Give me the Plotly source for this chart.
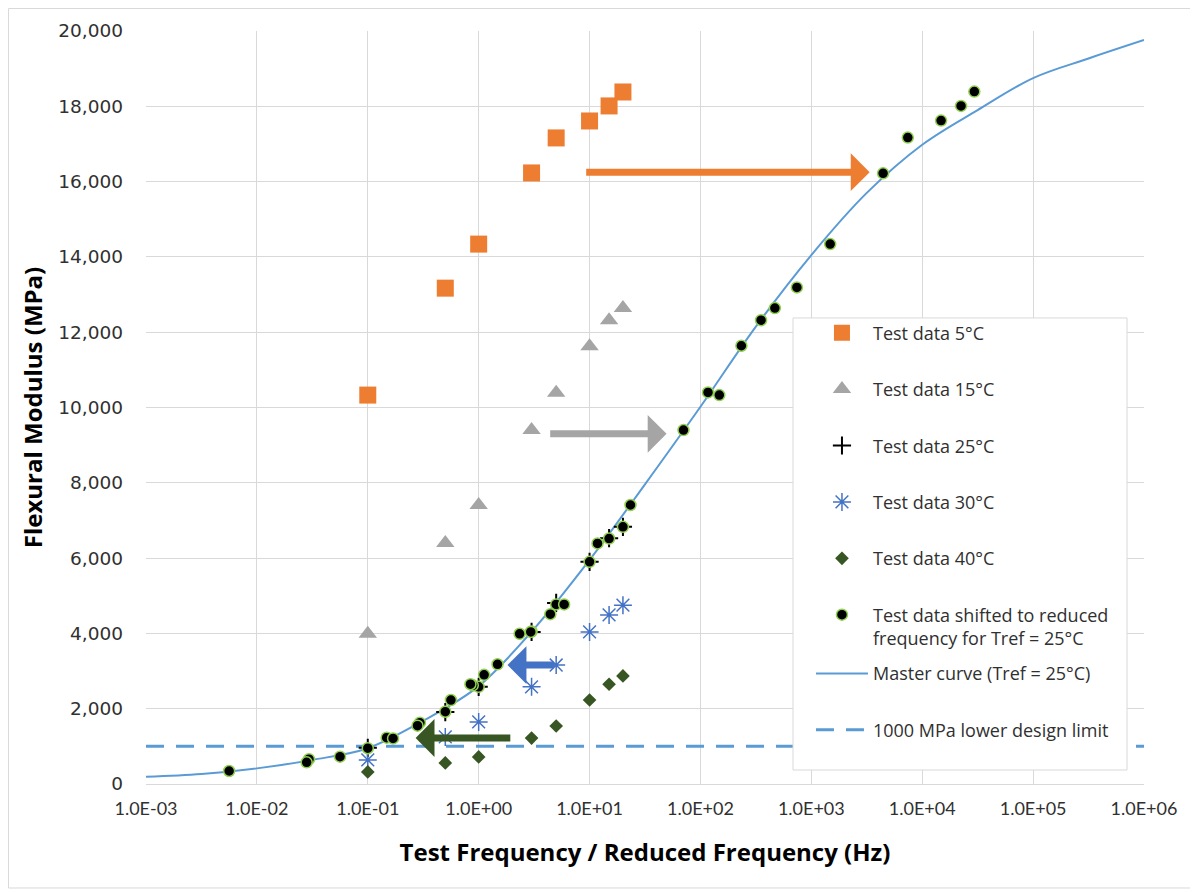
import numpy as np
import plotly.graph_objects as go

# ---------------- data ----------------
test_freq_hz = [0.1, 0.5, 1, 3, 5, 10, 15, 20]

modulus_5c = [10330, 13170, 14340, 16230, 17160, 17610, 18010, 18380]
modulus_15c = [3990, 6400, 7410, 9400, 10390, 11630, 12320, 12640]
modulus_25c = [960, 1910, 2580, 4040, 4810, 5900, 6530, 6830]
modulus_30c = [640, 1250, 1650, 2580, 3160, 4040, 4490, 4750]
modulus_40c = [320, 560, 720, 1220, 1540, 2230, 2650, 2870]

shifted_freq_hz = [
    148, 741, 1479, 4437, 7413, 14790, 22390, 29510,          # from 5°C
    2.34, 11.8, 23.4, 70.3, 117, 234, 352, 469,               # from 15°C
    0.1, 0.5, 1, 3, 5, 10, 15, 20,                            # 25°C (reference)
    0.0295, 0.148, 0.295, 0.885, 1.48, 2.95, 4.43, 5.9,       # from 30°C
    0.00562, 0.0281, 0.0562, 0.169, 0.281, 0.562, 0.843, 1.12 # from 40°C
]
shifted_modulus = [
    10330, 13190, 14340, 16220, 17170, 17620, 18010, 18390,
    3990, 6390, 7410, 9400, 10400, 11640, 12320, 12640,
    950, 1920, 2580, 4050, 4770, 5900, 6520, 6830,
    660, 1230, 1630, 2620, 3180, 4040, 4510, 4770,
    345, 575, 725, 1210, 1550, 2230, 2650, 2900,
]

master_freq_hz = [1e-3, 3.16e-3, 1e-2, 3.16e-2, 0.1, 0.316, 1, 3.16, 10, 31.6,
                  100, 316, 1000, 3162, 1e4, 3.16e4, 1e5, 3.16e5, 1e6]
master_modulus = [190, 265, 415, 640, 950, 1680, 2600, 4120, 5950, 7960,
                  10020, 12150, 14050, 15700, 16980, 17900, 18750, 19270, 19760]

design_limit_freq_hz = [1e-3, 1e6]
design_limit_modulus = [1000, 1000]

x_tick_vals = [1e-3, 1e-2, 1e-1, 1e0, 1e1, 1e2, 1e3, 1e4, 1e5, 1e6]
x_tick_text = ["1.0E-03", "1.0E-02", "1.0E-01", "1.0E+00", "1.0E+01",
               "1.0E+02", "1.0E+03", "1.0E+04", "1.0E+05", "1.0E+06"]
y_tick_vals = list(range(0, 20001, 2000))

# shift arrows (tail frequency -> tip frequency at a given modulus)
arrow_tail_hz = [9.04, 4.28, 4.94, 1.99]
arrow_tip_hz = [3357, 49.5, 1.82, 0.27]
arrow_modulus = [16250, 9300, 3160, 1222]
arrow_colors = ["#ED7D31", "#A5A5A5", "#4472C4", "#375623"]

# ---------------- figure ----------------
FONT = "'Open Sans', Lato, Arial, sans-serif"
TXT = "#303030"
fig = go.Figure()

# lines first so markers sit on top
fig.add_trace(go.Scatter(
    x=master_freq_hz, y=master_modulus, mode="lines", line_shape="spline",
    line=dict(color="#5B9BD5", width=2), name="Master curve (Tref = 25°C)",
    legend="legend2", legendgroup="g7", legendrank=7))
fig.add_trace(go.Scatter(
    x=design_limit_freq_hz, y=design_limit_modulus, mode="lines",
    line=dict(color="#5B9BD5", width=3, dash="18px,12px"),
    name="1000 MPa lower design limit",
    legend="legend2", legendgroup="g8", legendrank=8))

fig.add_trace(go.Scatter(
    x=test_freq_hz, y=modulus_5c, mode="markers", name="Test data 5°C",
    marker=dict(symbol="square", size=17, color="#ED7D31"),
    legendgroup="g1", legendrank=1))
fig.add_trace(go.Scatter(
    x=test_freq_hz, y=modulus_15c, mode="markers", name="Test data 15°C",
    marker=dict(symbol="triangle-up", size=16, color="#A5A5A5"),
    legendgroup="g2", legendrank=2))
fig.add_trace(go.Scatter(
    x=test_freq_hz, y=modulus_25c, mode="markers", name="Test data 25°C",
    marker=dict(symbol="cross-thin-open", size=13, color="black",
                line=dict(color="black", width=2)),
    legendgroup="g3", legendrank=3))
fig.add_trace(go.Scatter(
    x=test_freq_hz, y=modulus_30c, mode="markers", name="Test data 30°C",
    marker=dict(symbol="asterisk-open", size=15, color="#4472C4",
                line=dict(color="#4472C4", width=1.5)),
    legendgroup="g4", legendrank=4))
fig.add_trace(go.Scatter(
    x=test_freq_hz, y=modulus_40c, mode="markers", name="Test data 40°C",
    marker=dict(symbol="diamond", size=10.5, color="#375623"),
    legendgroup="g5", legendrank=5))
fig.add_trace(go.Scatter(
    x=shifted_freq_hz, y=shifted_modulus, mode="markers",
    name="Test data shifted to reduced<br>frequency for Tref = 25°C",
    marker=dict(symbol="circle", size=11, color="black",
                line=dict(color="#92D050", width=1.5)),
    legendgroup="g6", legendrank=6))

for tail, tip, yv, col in zip(arrow_tail_hz, arrow_tip_hz, arrow_modulus, arrow_colors):
    fig.add_annotation(
        x=np.log10(tip), y=yv, ax=np.log10(tail), ay=yv,
        xref="x", yref="y", axref="x", ayref="y", text="",
        showarrow=True, arrowhead=1, arrowsize=0.9, arrowwidth=7,
        arrowcolor=col)

# outer chart border
fig.add_shape(type="rect", xref="paper", yref="paper",
              x0=-0.1378, x1=1.0481, y0=-0.1381, y1=1.0299,
              line=dict(color="#D9D9D9", width=1), fillcolor="rgba(0,0,0,0)",
              layer="below")
# legend box (shared by the two legend blocks)
fig.add_shape(type="rect", xref="paper", yref="paper",
              x0=0.6483, x1=0.983, y0=0.0186, y1=0.6189,
              line=dict(color="#D9D9D9", width=1), fillcolor="white",
              layer="above")

legend_common = dict(
    xanchor="left", yanchor="top",
    bgcolor="rgba(0,0,0,0)", borderwidth=0,
    font=dict(family=FONT, size=18, color=TXT),
    traceorder="grouped", tracegroupgap=30, valign="top",
    itemwidth=52,
)

fig.update_layout(
    width=1190, height=884,
    margin=dict(l=138, r=54, t=23, b=108),
    paper_bgcolor="white", plot_bgcolor="white",
    font=dict(family=FONT, color=TXT),
    showlegend=True,
    legend=dict(x=0.6663, y=0.6235, **legend_common),
    legend2=dict(x=0.6663, y=0.171, **legend_common),
    xaxis=dict(
        type="log", range=[-3, 6],
        tickvals=x_tick_vals, ticktext=x_tick_text,
        tickfont=dict(family="Lato, 'Open Sans', sans-serif", size=18, color=TXT),
        showgrid=True, gridcolor="#D9D9D9", gridwidth=1,
        showline=True, linecolor="#D9D9D9", linewidth=1,
        ticks="", ticklabelstandoff=8, zeroline=False,
        title=dict(text="<b>Test Frequency / Reduced Frequency (Hz)</b>",
                   font=dict(family=FONT, size=24, color="black"), standoff=26),
        automargin=False,
    ),
    yaxis=dict(
        range=[0, 20000], tickvals=y_tick_vals, tickformat=",",
        tickfont=dict(family="'DejaVu Sans', Verdana, sans-serif", size=18.5, color=TXT),
        showgrid=True, gridcolor="#D9D9D9", gridwidth=1,
        showline=False, ticks="", ticklabelstandoff=22, zeroline=False,
        title=dict(text="<b>Flexural Modulus (MPa)</b>",
                   font=dict(family=FONT, size=24, color="black"), standoff=8),
        automargin=False,
    ),
)

fig.write_html("out.html")
